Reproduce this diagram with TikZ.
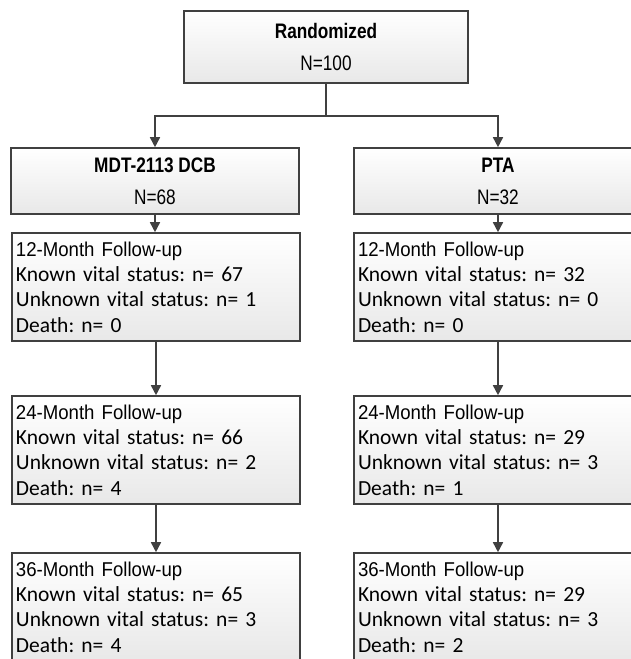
\documentclass[tikz,border=0pt]{standalone}
\usepackage{fontspec}
\setmainfont{Carlito}
\newfontfamily\narrowfont[FakeStretch=0.82]{Liberation Sans}
\newfontfamily\headfont[FakeStretch=0.93]{Liberation Sans}
\usetikzlibrary{positioning,arrows.meta}
\definecolor{linegray}{HTML}{404040}
\frenchspacing

\tikzset{
  groupbox/.style={draw=linegray, line width=1.6pt, top color=white, bottom color=gray!18,
    minimum width=288pt, minimum height=66pt, align=center, inner sep=2pt,
    font=\narrowfont\fontsize{21}{32}\selectfont},
  visitbox/.style={draw=linegray, line width=1.6pt, top color=white, bottom color=gray!18,
    text width=280pt, minimum height=108pt, inner sep=4pt, align=left,
    font=\fontsize{21.5}{25.4}\selectfont},
  flow/.style={-{Triangle[length=10pt,width=10pt]}, draw=linegray, line width=1.6pt}
}
\newcommand{\visithead}[1]{{\headfont\fontsize{20}{25.4}\selectfont #1}}

\begin{document}
\begin{tikzpicture}[x=1pt, y=1pt]
    \useasboundingbox (0,0) rectangle (631,-659);
    \clip (0,0) rectangle (631,-659);

    % Randomization
    \node[groupbox, minimum width=284pt, minimum height=72pt] (rand) at (326,-47) {\textbf{Randomized}\\N=100};

    % Treatment arms
    \node[groupbox] (dcb) at (155,-181) {\textbf{MDT-2113 DCB}\\N=68};
    \node[groupbox] (pta) at (498,-181) {\textbf{PTA}\\N=32};

    % DCB follow-up
    \node[visitbox] (dcbA) at (156,-287) {\visithead{12-Month Follow-up}\\Known vital status: n= 67\\Unknown vital status: n= 1\\Death: n= 0};
    \node[visitbox] (dcbB) at (156,-450) {\visithead{24-Month Follow-up}\\Known vital status: n= 66\\Unknown vital status: n= 2\\Death: n= 4};
    \node[visitbox] (dcbC) at (156,-607) {\visithead{36-Month Follow-up}\\Known vital status: n= 65\\Unknown vital status: n= 3\\Death: n= 4};

    % PTA follow-up
    \node[visitbox] (ptaA) at (498,-287) {\visithead{12-Month Follow-up}\\Known vital status: n= 32\\Unknown vital status: n= 0\\Death: n= 0};
    \node[visitbox] (ptaB) at (498,-450) {\visithead{24-Month Follow-up}\\Known vital status: n= 29\\Unknown vital status: n= 3\\Death: n= 1};
    \node[visitbox] (ptaC) at (498,-607) {\visithead{36-Month Follow-up}\\Known vital status: n= 29\\Unknown vital status: n= 3\\Death: n= 2};

    % Split
    \draw[draw=linegray, line width=1.6pt] (rand.south) -- ++(0,-32) coordinate (split);
    \draw[flow] (split) -| (dcb.north);
    \draw[flow] (split) -| (pta.north);

    % Arrows down
    \draw[flow] (dcb.south) -- (dcb.south |- dcbA.north);
    \draw[flow] (dcbA.south) -- (dcbB.north);
    \draw[flow] (dcbB.south) -- (dcbC.north);
    \draw[flow] (pta.south) -- (pta.south |- ptaA.north);
    \draw[flow] (ptaA.south) -- (ptaB.north);
    \draw[flow] (ptaB.south) -- (ptaC.north);
\end{tikzpicture}
\end{document}
